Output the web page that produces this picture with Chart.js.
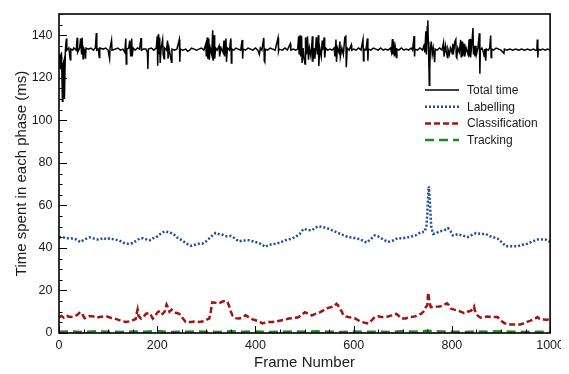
<!DOCTYPE html>
<html><head><meta charset="utf-8">
<script src="https://cdn.jsdelivr.net/npm/chart.js@4/dist/chart.umd.min.js"></script>
<style>html,body{margin:0;padding:0;background:#fff}#wrap{width:561px;height:374px;overflow:hidden}</style>
</head><body>
<div id="wrap"><canvas id="c" width="569" height="374"></canvas></div>
<script>
// ---- data ----
const X_TICKS = [0, 200, 400, 600, 800, 1000];
const Y_TICKS = [0, 20, 40, 60, 80, 100, 120, 140];
const SERIES_NAMES = ['Total time', 'Labelling', 'Classification', 'Tracking'];
const X_TITLE = 'Frame Number';
const Y_TITLE = 'Time spent in each phase (ms)';

// [frame, ms]
const totalTime = [[0,131],[2,129],[3,124],[5,132],[7,109],[8,126],[10,128],[11,110],[13,133],[15,138.5],[16,133],[20,134],[23,128.5],[24,133.5],[28,133],[30,134],[35,133],[37,138.8],[38,132],[42,134],[44,138.5],[46,131],[47,138.8],[49,129],[50,134],[52,133],[54,129],[55,134],[60,133.5],[65,134],[70,133],[74,134],[76,141],[77,133],[80,133.5],[82,129.5],[83,134],[90,133.5],[95,134],[100,133],[103,129],[104,134],[107,137.7],[108,133],[115,133.5],[120,134],[125,133],[130,133.5],[134,132],[136,138.5],[137,126.5],[138,133.5],[142,134],[144,137.5],[146,130],[148,138.5],[149,130],[151,134],[155,133],[160,134],[164,133.5],[167,138.7],[168,133],[172,133.5],[177,133.5],[180,132],[181,124.2],[182,133.5],[188,134],[193,133],[198,134],[200,139.5],[201,125.7],[202,140.5],[203,131],[205,139],[206,127],[208,134],[211,138],[212,131],[214,129],[215,134],[219,133],[221,137.5],[222,129],[224,134],[229,127.3],[230,133.5],[235,133],[240,133.5],[245,138],[246,127.5],[247,133.5],[252,133],[258,133.5],[262,132.5],[266,133],[270,134],[275,133.5],[280,133],[285,133.5],[290,134],[295,133],[299,136],[300,130],[302,139],[303,129],[305,138.5],[306,128.5],[308,134],[311,131],[313,142.3],[314,128],[316,140],[317,129],[319,134],[322,133],[326,135],[327,130],[330,134],[334,132],[336,137.5],[337,130],[340,138.5],[341,127.5],[343,134],[347,133],[350,138.5],[351,127],[352,133.5],[356,133],[360,134],[365,133.5],[370,133],[373,137.8],[374,129],[375,133.5],[380,133],[385,134],[390,133.5],[395,133],[400,134],[405,133],[408,131],[410,134],[413,133],[417,138.8],[418,128],[419,127.5],[420,133.5],[425,133],[430,134],[435,133.5],[440,133],[446,138.8],[447,132.5],[448,133.5],[455,133],[460,134],[465,133],[471,136],[472,133],[477,133.5],[482,133],[486,133.5],[488,139.5],[489,131],[491,140],[492,130],[494,139.5],[495,127],[497,134],[499,129],[501,126.5],[502,139],[504,131],[506,139.5],[508,128.5],[510,134],[513,130],[516,139.5],[517,127.5],[519,134],[521,129],[524,139],[526,131],[528,140],[529,125.5],[531,134],[534,130],[536,137.5],[537,133],[540,139],[541,129.5],[543,134],[547,133],[552,133.5],[556,133],[560,134],[562,130],[564,138],[565,127.5],[567,134],[570,132],[572,137],[573,130],[576,134],[579,131],[582,139],[584,139.5],[585,125],[587,134],[591,133],[595,135.5],[596,133],[600,133.5],[605,133],[610,134],[615,133],[619,138],[620,128],[621,133.5],[625,133],[628,138.5],[629,128],[630,133.5],[635,133],[640,134],[645,133.5],[650,133],[655,134],[660,133],[665,133.5],[670,133],[675,134],[677,132],[679,138.2],[680,131],[682,137],[683,130],[685,134],[687,129.5],[688,133.5],[692,133],[697,134],[702,133],[707,133.5],[712,133],[717,134],[720,133],[723,139.6],[724,130],[725,133.5],[730,133],[735,134],[740,133],[743,135],[745,132],[747,141.9],[748,131],[750,144],[751,147],[752,137],[753,128],[754,116.5],[755,124],[756,133],[758,137],[760,131],[762,134],[765,127.3],[766,133.5],[770,133],[775,134],[780,133],[783,136.5],[784,130],[787,135],[788,133],[791,129.6],[792,133.5],[795,131],[797,134],[800,132],[802,136],[803,131],[806,137],[808,138],[809,130],[810,129.5],[812,134],[815,132],[818,137.8],[819,129.5],[821,137],[822,130],[825,136],[826,130],[829,134],[833,131],[835,138],[836,130],[837,138.3],[838,129.6],[840,134],[843,143.4],[844,131],[846,135],[847,130],[849,135],[850,131],[853,134],[856,141],[857,121.9],[858,133],[861,134],[863,133],[866,130],[867,133.5],[869,128],[870,133.5],[874,133],[877,134],[879,139.9],[880,129.5],[881,133.5],[885,133],[890,134],[895,133.5],[900,133],[906,131.5],[907,133.5],[912,133],[918,133.5],[924,133],[930,133.5],[936,133],[942,133.5],[948,133],[954,133.5],[960,133],[966,133.5],[970,133],[973,133],[974,138],[975,129.6],[976,133.5],[980,133],[985,133.5],[990,133],[995,133.5],[1000,133]];

const labelling = [[0,45],[8,45],[16,44.5],[25,44.5],[35,44],[43,42.8],[52,44],[63,45],[70,44.5],[78,44],[83,44],[90,44.7],[97,44],[103,44.5],[112,44],[123,43.5],[130,42.5],[137,42],[145,42],[150,42.3],[158,43.5],[165,44.5],[171,44.5],[178,44],[184,43.5],[191,44.5],[198,45],[206,46.5],[215,47.8],[222,47.5],[232,46.8],[240,45],[251,43.5],[260,42],[269,41],[277,41.5],[285,42],[292,42],[299,43],[306,44.5],[313,46],[319,47.1],[326,46.5],[333,46.2],[341,45.5],[350,45.6],[358,44.5],[366,43.1],[375,43.5],[387,43.6],[397,43],[407,42.3],[414,41.5],[420,40.5],[428,41.5],[440,42],[450,42.5],[461,43.6],[471,44.2],[481,45.1],[490,46.5],[498,49],[506,48.5],[515,48.3],[522,49.5],[528,50.2],[538,49.8],[549,49],[559,48],[569,47],[579,46],[589,45.1],[599,44.8],[609,44.3],[618,43.5],[626,42.5],[634,44],[643,45.9],[650,45.4],[660,44],[670,42.8],[680,43.5],[690,44.6],[700,44.5],[710,45],[717,45.4],[727,46],[737,47.4],[744,47.5],[748,50],[750,56],[752,66],[753,69],[755,62],[756,58],[758,50],[762,46.6],[768,47],[775,47.8],[784,48.2],[792,49.3],[797,48],[802,45.9],[812,46.5],[822,45.8],[832,45.1],[840,46],[849,47],[858,46.6],[869,46.6],[878,45.5],[885,45],[893,44.4],[900,43],[910,40.8],[920,40.8],[934,40.8],[944,41.5],[954,42],[964,43],[974,44],[982,44],[990,44],[997,43.1],[1000,43]];

const classification = [[0,7.5],[5,8],[10,7.2],[16,8],[22,7.5],[30,7.7],[37,8.5],[43,9.8],[47,9],[52,7],[58,7.5],[63,8],[70,7.8],[76,7.2],[83,7.5],[90,7.8],[97,7.8],[105,7.2],[113,6.8],[120,6.3],[128,5.5],[137,5.2],[144,5.5],[150,6],[156,6.5],[158,9],[160,11],[162,8],[167,6.8],[172,7.5],[177,9],[183,9.5],[187,8.5],[191,6.8],[196,8],[201,9.8],[206,10.5],[211,9],[215,10],[219,13.4],[222,12],[225,10],[229,11],[232,10.5],[238,9.5],[245,9],[250,7.5],[258,5.2],[268,5.2],[278,5.4],[285,5.2],[295,5.5],[303,6.5],[306,6.8],[309,10],[312,14.4],[318,14.2],[326,14],[333,14.8],[339,15.2],[343,14.5],[346,13],[350,10],[353,8.3],[360,7],[366,6.8],[373,7.2],[380,8.3],[386,7.5],[393,6.5],[400,6],[407,5.5],[414,4.5],[422,5],[428,5.2],[434,5.2],[444,5.5],[454,6],[461,6.3],[468,6.8],[476,7],[483,7.2],[488,7.5],[494,8.5],[501,9.8],[508,9],[515,8.3],[522,9],[532,9.8],[537,10.5],[542,11.4],[548,11.8],[555,12.2],[560,12.5],[565,13.7],[568,13],[572,11.4],[576,10],[579,8.3],[584,7.8],[589,7.5],[596,7.2],[603,6.8],[609,6],[616,5.2],[623,4.8],[630,4.5],[637,6],[643,7.5],[650,7.9],[656,7.5],[663,7.5],[670,7.8],[677,8.3],[683,8.8],[687,9],[692,8],[697,6.8],[705,6.8],[711,7.2],[717,7.5],[725,7.8],[731,8.5],[737,9],[742,10],[747,12.2],[750,13],[751,17],[752,19],[753,17],[754,15],[757,12.2],[762,12.3],[767,12.4],[774,12.5],[781,12.8],[786,13.5],[790,14],[794,13],[798,11.4],[805,11],[812,10.7],[818,10],[825,9.3],[832,10],[839,10.5],[843,11.5],[845,12.4],[847,10.5],[850,9.5],[852,8.3],[856,7.5],[859,7.2],[866,7.5],[872,7.8],[879,7.5],[886,7.5],[893,7.5],[899,6],[906,4.8],[912,4.2],[919,4],[926,4],[932,4],[939,4],[946,4.5],[953,5.2],[960,5.8],[966,6.3],[970,6.8],[974,7.5],[978,6.8],[983,6.3],[987,6.3],[993,6.2],[997,6.3],[1000,6.3]];

const tracking = [[0,0.6],[25,0.7],[50,0.5],[75,0.8],[100,0.6],[125,0.5],[150,0.7],[175,0.6],[200,0.9],[225,0.5],[250,0.6],[275,0.7],[300,0.6],[325,0.5],[350,0.8],[375,0.6],[400,0.7],[425,0.5],[450,0.6],[475,0.7],[500,0.6],[525,0.8],[550,0.6],[575,0.5],[600,0.7],[625,0.6],[650,0.6],[675,0.5],[700,0.9],[725,0.6],[750,1.0],[775,0.7],[800,0.6],[825,0.5],[850,0.7],[875,0.6],[900,0.8],[925,0.6],[950,0.5],[975,0.6],[1000,0.6]];

// ---- chart ----
const FONT = '"Liberation Sans", Arial, Helvetica, sans-serif';
Chart.defaults.font.family = FONT;
Chart.defaults.color = '#1a1a1a';

const STYLES = [
  {color:'#000000', width:1.5, dash:[]},
  {color:'#1d4c9c', width:2.5, dash:[2,2]},
  {color:'#a11414', width:2.5, dash:[6,3]},
  {color:'#1b8c1b', width:2.5, dash:[9,5]}
];
const SERIES = [totalTime, labelling, classification, tracking];

const decor = {
  id: 'decor',
  afterDatasetsDraw(chart) {
    const {ctx, chartArea: a, scales: {x, y}} = chart;
    ctx.save();
    ctx.strokeStyle = '#000';
    ctx.lineWidth = 1;
    ctx.beginPath();
    for (let v = 0; v <= 1000; v += 50) {
      const px = Math.round(x.getPixelForValue(v)) + 0.5;
      const len = v % 200 === 0 ? 7 : 3.5;
      ctx.moveTo(px, a.bottom); ctx.lineTo(px, a.bottom - len);
    }
    for (let v = 0; v <= 150; v += 5) {
      const py = Math.round(y.getPixelForValue(v)) + 0.5;
      const len = v % 20 === 0 ? 8 : 3.5;
      ctx.moveTo(a.left, py); ctx.lineTo(a.left + len, py);
    }
    ctx.stroke();
    ctx.lineWidth = 1.6;
    ctx.strokeRect(a.left, a.top, a.right - a.left, a.bottom - a.top);
    // legend
    const lx0 = 425, lx1 = 459, tx = 467, ty0 = 90, dy = 16.7;
    ctx.font = '12px ' + FONT;
    ctx.textBaseline = 'middle';
    ctx.textAlign = 'left';
    chart.data.datasets.forEach((ds, i) => {
      const yy = ty0 + i * dy;
      ctx.beginPath();
      ctx.strokeStyle = ds.borderColor;
      ctx.lineWidth = ds.borderWidth;
      ctx.setLineDash(ds.borderDash || []);
      ctx.moveTo(lx0, yy); ctx.lineTo(lx1, yy);
      ctx.stroke();
      ctx.setLineDash([]);
      ctx.fillStyle = '#1a1a1a';
      ctx.fillText(ds.label, tx, yy + 0.5);
    });
    ctx.restore();
  }
};

new Chart(document.getElementById('c'), {
  type: 'line',
  data: {
    datasets: SERIES.map((s, i) => ({
      label: SERIES_NAMES[i],
      data: s.map(([fx, fy]) => ({x: fx, y: fy})),
      borderColor: STYLES[i].color,
      borderWidth: STYLES[i].width,
      borderDash: STYLES[i].dash,
      pointRadius: 0,
      tension: 0,
      fill: false,
      order: i
    }))
  },
  options: {
    responsive: false,
    animation: false,
    events: [],
    layout: {padding: {left: 0, right: 17, top: 7, bottom: 0}},
    plugins: {legend: {display: false}, tooltip: {enabled: false}},
    scales: {
      x: {
        type: 'linear', min: 0, max: 1000,
        grid: {display: false, drawTicks: false},
        border: {display: false},
        afterBuildTicks: s => { s.ticks = X_TICKS.map(v => ({value: v})); },
        afterFit: s => { s.height = 41; },
        ticks: {font: {size: 12.5}, padding: 5, maxRotation: 0, color: '#1a1a1a', callback: v => String(v)},
        title: {display: true, text: X_TITLE, font: {size: 15}, color: '#1a1a1a', padding: {top: 0, bottom: 2}}
      },
      y: {
        type: 'linear', min: 0, max: 150,
        grid: {display: false, drawTicks: false},
        border: {display: false},
        afterBuildTicks: s => { s.ticks = Y_TICKS.map(v => ({value: v})); },
        afterFit: s => { s.width = 59; },
        ticks: {font: {size: 12.5}, padding: 6.5, color: '#1a1a1a', callback: v => String(v)},
        title: {display: true, text: Y_TITLE, font: {size: 15}, color: '#1a1a1a', padding: {top: 13, bottom: 0}}
      }
    }
  },
  plugins: [decor]
});
</script>
</body></html>
